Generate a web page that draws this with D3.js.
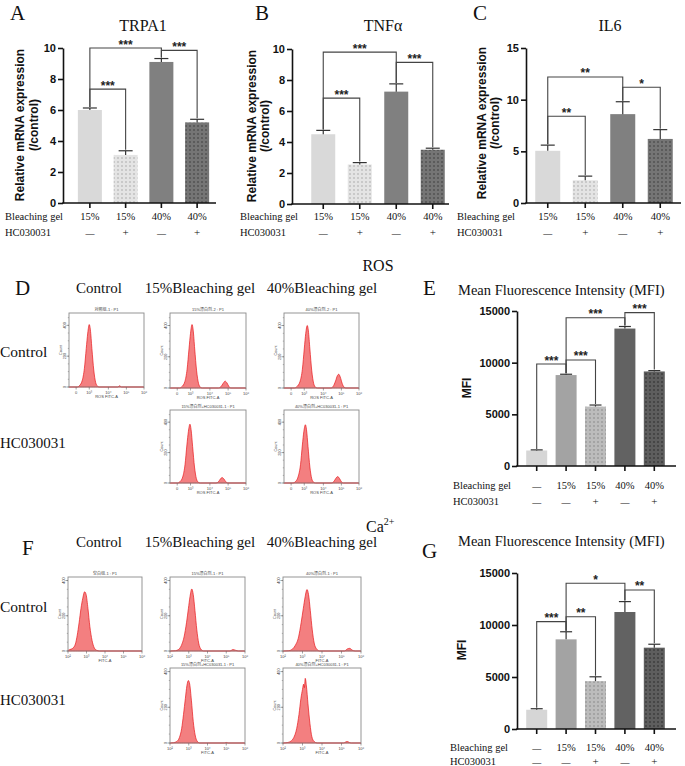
<!DOCTYPE html>
<html><head><meta charset="utf-8">
<script src="https://cdn.jsdelivr.net/npm/d3@7"></script>
<style>body{margin:0;background:#fff}svg{display:block}</style>
</head><body>
<svg id="fig" width="685" height="766"></svg>
<script>
// ---------------- DATA ----------------
const geneGel = ["15%","15%","40%","40%"];
const geneHC = ["—","+","—","+"];
const trpa1 = [6.0, 3.1, 9.1, 5.2];
const trpa1Err = [0.13, 0.27, 0.22, 0.2];
const tnfa = [4.5, 2.55, 7.25, 3.5];
const tnfaErr = [0.25, 0.12, 0.5, 0.1];
const il6 = [5.05, 2.2, 8.6, 6.2];
const il6Err = [0.55, 0.4, 1.2, 0.9];
const geneTicks10 = [0, 2, 4, 6, 8, 10];
const geneTicks15 = [0, 5, 10, 15];
// brackets: [from bar, to bar, level, label]
const trpa1Sig = [[0,2,10.0,"***"],[2,3,9.85,"***"],[0,1,7.35,"***"]];
const tnfaSig = [[0,2,9.8,"***"],[2,3,9.14,"***"],[0,1,6.83,"***"]];
const il6Sig = [[0,2,12.2,"**"],[2,3,11.2,"*"],[0,1,8.4,"**"]];

const mfiGel = ["—","15%","15%","40%","40%"];
const mfiHC = ["—","—","+","—","+"];
const mfiTicks = [0, 5000, 10000, 15000];
const rosMFI = [1500, 8800, 5750, 13300, 9150];
const rosMFIErr = [60, 80, 150, 200, 80];
const rosSig = [[0,1,9870,"***"],[1,2,10260,"***"],[1,3,14350,"***"],[3,4,14840,"***"]];
const caMFI = [1850, 8620, 4600, 11250, 7820];
const caMFIErr = [100, 730, 420, 1000, 330];
const caSig = [[0,1,10320,"***"],[1,2,10800,"**"],[1,3,14010,"*"],[3,4,13370,"**"]];

// flow histograms: [x position on axis, count]
const rosCtrl = [[0,0],[0.45,0],[0.55,8],[0.7,40],[0.82,120],[0.92,250],[1.0,350],[1.08,405],[1.14,370],[1.22,250],[1.32,110],[1.42,30],[1.52,5],[1.62,0],[2.6,0],[2.7,8],[2.8,0],[4,0]];
const ros15 = [[0,0],[0.5,0],[0.62,8],[0.78,40],[0.9,120],[1.0,250],[1.08,350],[1.16,406],[1.22,370],[1.3,250],[1.4,110],[1.5,30],[1.6,5],[1.7,0],[2.55,0],[2.68,8],[2.8,30],[2.9,44],[3.0,32],[3.1,10],[3.2,0],[4,0]];
const ros40 = [[0,0],[0.55,0],[0.68,8],[0.85,40],[0.98,120],[1.08,250],[1.16,350],[1.24,400],[1.3,365],[1.38,250],[1.48,110],[1.58,30],[1.68,5],[1.78,0],[2.5,0],[2.62,10],[2.75,45],[2.85,80],[2.92,88],[3.0,70],[3.1,30],[3.2,6],[3.3,0],[4,0]];
const ros15HC = [[0,0],[0.4,0],[0.52,8],[0.67,40],[0.79,120],[0.89,250],[0.97,340],[1.05,387],[1.11,350],[1.19,240],[1.29,105],[1.39,28],[1.49,5],[1.59,0],[2.42,0],[2.55,8],[2.65,26],[2.74,36],[2.84,26],[2.94,8],[3.04,0],[4,0]];
const ros40HC = [[0,0],[0.48,0],[0.6,8],[0.75,40],[0.88,120],[0.98,250],[1.06,340],[1.14,383],[1.2,350],[1.28,240],[1.38,105],[1.48,28],[1.58,5],[1.68,0],[2.52,0],[2.65,8],[2.76,30],[2.86,42],[2.96,30],[3.06,8],[3.16,0],[4,0]];
const caCtrl = [[2.0,3],[2.1,8],[2.25,15],[2.4,40],[2.5,90],[2.6,160],[2.7,240],[2.8,300],[2.9,336],[2.98,320],[3.08,240],[3.18,140],[3.3,60],[3.42,18],[3.55,4],[3.7,0],[6,0]];
const ca15 = [[2.0,0],[2.3,2],[2.45,8],[2.6,30],[2.75,80],[2.88,160],[2.98,240],[3.07,310],[3.16,352],[3.24,320],[3.33,230],[3.43,120],[3.53,45],[3.65,10],[3.8,0],[5.2,0],[5.35,8],[5.5,4],[5.65,0],[6,0]];
const ca40 = [[2.0,0],[2.3,2],[2.45,8],[2.62,30],[2.8,80],[2.93,160],[3.04,240],[3.14,310],[3.23,349],[3.31,320],[3.4,230],[3.5,120],[3.6,45],[3.72,12],[3.88,0],[5.15,0],[5.3,12],[5.42,15],[5.55,5],[5.7,0],[6,0]];
const ca15HC = [[2.0,0],[2.2,2],[2.35,8],[2.5,30],[2.62,80],[2.72,160],[2.82,250],[2.9,320],[2.98,350],[3.05,330],[3.14,240],[3.24,120],[3.34,45],[3.45,10],[3.6,0],[4.9,0],[5.0,3],[5.1,0],[6,0]];
const ca40HC = [[2.0,0],[2.25,3],[2.4,10],[2.55,30],[2.7,80],[2.82,160],[2.92,250],[3.0,300],[3.06,330],[3.1,310],[3.14,362],[3.2,320],[3.28,220],[3.38,110],[3.48,35],[3.6,8],[3.75,0],[5.1,0],[5.22,6],[5.3,8],[5.4,3],[5.5,0],[6,0]];
const rosTicks = [[0.38,"0"],[1.08,"10³"],[2.1,"10⁴"],[3.06,"10⁵"],[4,"10⁶"]];
const caTicks = [[2,"10²"],[3,"10³"],[4,"10⁴"],[5,"10⁵"],[6,"10⁶"]];
const countTicks = [0, 200, 400];
const colHeads = ["Control","15%Bleaching gel","40%Bleaching gel"];
const rowHeads = ["Control","HC030031"];

// ---------------- DRAWING ----------------
const svg = d3.select("#fig");
const SERIF = "'Liberation Serif','Times New Roman',serif";
const SANS = "'Liberation Sans',Arial,sans-serif";
const CJK = "'Liberation Sans','Noto Sans CJK SC',sans-serif";
const defs = svg.append("defs");
function dotPattern(id, bg, dot) {
  const p = defs.append("pattern").attr("id", id).attr("patternUnits","userSpaceOnUse")
    .attr("width",4).attr("height",4);
  p.append("rect").attr("width",4).attr("height",4).attr("fill",bg);
  p.append("circle").attr("cx",2).attr("cy",2).attr("r",0.8).attr("fill",dot);
}
dotPattern("dotLight","#e4e4e4","#a8a8a8");
dotPattern("dotDark","#757575","#3a3a3a");
dotPattern("dotMid","#bcbcbc","#858585");
dotPattern("dotDarker","#5e5e5e","#262626");

const geneFills = ["#d9d9d9","url(#dotLight)","#808080","url(#dotDark)"];
const mfiFills = ["#d6d6d6","#a3a3a3","url(#dotMid)","#626262","url(#dotDarker)"];

function text(x, y, s, size, family, opts = {}) {
  const t = svg.append("text").attr("x", x).attr("y", y).text(s)
    .attr("font-size", size).attr("font-family", family).attr("fill", "#111");
  if (opts.anchor) t.attr("text-anchor", opts.anchor);
  if (opts.weight) t.attr("font-weight", opts.weight);
  if (opts.rotate) t.attr("transform", `rotate(-90,${x},${y})`);
  return t;
}

function barPanel(o) {
  const g = svg.append("g");
  const y = d3.scaleLinear().domain(o.yDomain).range([o.yBottom, o.yTop]);
  const x = d3.scalePoint().domain(d3.range(o.values.length)).range(o.xRange).padding(0.5);
  g.selectAll("rect.bar").data(o.values).join("rect").attr("class","bar")
    .attr("x",(d,i)=>x(i)-o.bw/2).attr("width",o.bw)
    .attr("y",d=>y(d)).attr("height",d=>y(0)-y(d))
    .attr("fill",(d,i)=>o.fills[i]);
  const eb = g.selectAll("g.err").data(o.values).join("g").attr("class","err");
  eb.append("line").attr("x1",(d,i)=>x(i)).attr("x2",(d,i)=>x(i))
    .attr("y1",d=>y(d)).attr("y2",(d,i)=>y(d+o.errs[i]))
    .attr("stroke","#333").attr("stroke-width",1.2);
  eb.append("line").attr("x1",(d,i)=>x(i)-o.cap).attr("x2",(d,i)=>x(i)+o.cap)
    .attr("y1",(d,i)=>y(d+o.errs[i])).attr("y2",(d,i)=>y(d+o.errs[i]))
    .attr("stroke","#333").attr("stroke-width",1.2);
  const ya = d3.axisLeft(y).tickValues(o.ticks).tickSize(5).tickSizeOuter(0).tickPadding(2)
    .tickFormat(d3.format("d"));
  const yg = g.append("g").attr("transform",`translate(${o.ax},0)`).call(ya);
  yg.select(".domain").attr("stroke","#111").attr("stroke-width",1.6);
  yg.selectAll(".tick line").attr("stroke","#111").attr("stroke-width",1.6);
  yg.selectAll(".tick text").attr("font-family",SANS).attr("font-size",11)
    .attr("font-weight","bold").attr("fill","#111");
  g.append("line").attr("x1",o.ax - 0.8).attr("x2",o.xEnd).attr("y1",y(0)).attr("y2",y(0))
    .attr("stroke","#111").attr("stroke-width",1.6);
  g.selectAll("line.xt").data(o.values).join("line").attr("class","xt")
    .attr("x1",(d,i)=>x(i)).attr("x2",(d,i)=>x(i)).attr("y1",y(0)).attr("y2",y(0)+5)
    .attr("stroke","#111").attr("stroke-width",1.6);
  o.sig.forEach(([a,b,lev,lab])=>{
    const yl = y(lev);
    const ya1 = y(o.values[a]+o.errs[a]) - 1;
    const yb1 = y(o.values[b]+o.errs[b]) - 1;
    g.append("path").attr("d",`M${x(a)},${ya1}V${yl}H${x(b)}V${yb1}`)
      .attr("fill","none").attr("stroke","#444").attr("stroke-width",1.1);
    g.append("text").attr("x",(x(a)+x(b))/2).attr("y",yl+0.5).attr("text-anchor","middle")
      .attr("font-family",SANS).attr("font-size",12).attr("font-weight","bold").attr("fill","#222")
      .text(lab);
  });
  text(o.labelX, o.row1, "Bleaching gel", 10.5, SERIF);
  text(o.labelX, o.row2, "HC030031", 10.5, SERIF);
  o.gel.forEach((s,i)=> text(x(i), o.row1, s, s==="—"?9:10.5, SERIF, {anchor:"middle"}));
  o.hc.forEach((s,i)=> text(x(i), o.row2, s, s==="—"?9:11, SERIF, {anchor:"middle"}));
  o.ytitle.forEach(([s,xx])=> text(xx, o.ymid, s, 12, SANS, {anchor:"middle", weight:"bold", rotate:true}));
}

barPanel({values:trpa1, errs:trpa1Err, fills:geneFills, yDomain:[0,10], yBottom:203, yTop:48,
  xRange:[72,215], xEnd:216, ax:63, bw:24, cap:7, ticks:geneTicks10, sig:trpa1Sig,
  gel:geneGel, hc:geneHC, labelX:5, row1:220, row2:236, ymid:125,
  ytitle:[["Relative mRNA expression",24],["(/control)",38]]});
barPanel({values:tnfa, errs:tnfaErr, fills:geneFills, yDomain:[0,10], yBottom:204, yTop:49,
  xRange:[305,451], xEnd:449, ax:292, bw:24, cap:7, ticks:geneTicks10, sig:tnfaSig,
  gel:geneGel, hc:geneHC, labelX:240, row1:220, row2:236, ymid:126,
  ytitle:[["Relative mRNA expression",256],["(/control)",269]]});
barPanel({values:il6, errs:il6Err, fills:geneFills, yDomain:[0,15], yBottom:203, yTop:48,
  xRange:[529,679], xEnd:681, ax:526, bw:25, cap:7, ticks:geneTicks15, sig:il6Sig,
  gel:geneGel, hc:geneHC, labelX:457, row1:220, row2:236, ymid:123,
  ytitle:[["Relative mRNA expression",486],["(/control)",499]]});
barPanel({values:rosMFI, errs:rosMFIErr, fills:mfiFills, yDomain:[0,15000], yBottom:466, yTop:311,
  xRange:[522,669], xEnd:676, ax:517, bw:21, cap:6, ticks:mfiTicks, sig:rosSig,
  gel:mfiGel, hc:mfiHC, labelX:453, row1:489, row2:505, ymid:388,
  ytitle:[["MFI",471]]});
barPanel({values:caMFI, errs:caMFIErr, fills:mfiFills, yDomain:[0,15000], yBottom:729, yTop:573,
  xRange:[522,669], xEnd:676, ax:517, bw:21, cap:6, ticks:mfiTicks, sig:caSig,
  gel:mfiGel, hc:mfiHC, labelX:450, row1:751, row2:765, ymid:650,
  ytitle:[["MFI",466]]});

text(10,20,"A",21,SERIF); text(255,20,"B",21,SERIF); text(473,20,"C",21,SERIF);
text(15,295,"D",21,SERIF); text(423,295,"E",21,SERIF);
text(22,555,"F",21,SERIF); text(422,558,"G",21,SERIF);
text(143,31,"TRPA1",16,SERIF,{anchor:"middle"});
text(383,31,"TNFα",16,SERIF,{anchor:"middle"});
text(610,31,"IL6",16,SERIF,{anchor:"middle"});
text(458,295,"Mean Fluorescence Intensity (MFI)",14.5,SERIF);
text(458,546,"Mean Fluorescence Intensity (MFI)",14.5,SERIF);
text(378,271,"ROS",16,SERIF,{anchor:"middle"});
const ca = text(366,532,"Ca",16,SERIF);
ca.append("tspan").attr("font-size",10).attr("dy",-7).text("2+");

[[99,colHeads[0]],[200,colHeads[1]],[322,colHeads[2]]].forEach(([x,s])=>{
  text(x,293,s,15,SERIF,{anchor:"middle"});
  text(x,547,s,15,SERIF,{anchor:"middle"});
});
text(0,357,rowHeads[0],15.5,SERIF); text(0,448,rowHeads[1],15,SERIF);
text(0,612,rowHeads[0],15.5,SERIF); text(0,705,rowHeads[1],15,SERIF);

function hist(o) {
  const g = svg.append("g").attr("transform",`translate(${o.x},${o.y})`);
  const x = d3.scaleLinear().domain(o.xDomain).range([0,o.w]);
  const y = d3.scaleLinear().domain([0,o.yMax]).range([o.h,0]);
  const area = d3.area().x(d=>x(d[0])).y0(o.h).y1(d=>y(d[1])).curve(d3.curveMonotoneX);
  g.append("path").datum(o.data).attr("d",area).attr("fill","#f37f80")
    .attr("stroke","#e8191d").attr("stroke-width",0.7);
  g.append("rect").attr("width",o.w).attr("height",o.h).attr("fill","none")
    .attr("stroke","#8a8a8a").attr("stroke-width",0.9);
  d3.range(0, o.yMax, 50).forEach(v=>{
    g.append("line").attr("x1",-1.2).attr("x2",0).attr("y1",y(v)).attr("y2",y(v))
      .attr("stroke","#777").attr("stroke-width",0.5);
  });
  countTicks.forEach(v=>{
    g.append("line").attr("x1",-2.5).attr("x2",0).attr("y1",y(v)).attr("y2",y(v))
      .attr("stroke","#666").attr("stroke-width",0.6);
    g.append("text").attr("transform",`translate(-3.5,${y(v)}) rotate(-90)`)
      .attr("text-anchor","middle").attr("font-size",3.8).attr("font-family",SANS).attr("fill","#444").text(v);
  });
  g.append("text").attr("transform",`translate(-7.5,${o.h/2}) rotate(-90)`).attr("text-anchor","middle")
    .attr("font-size",3.8).attr("font-family",SANS).attr("fill","#444").text("Count");
  o.ticks.forEach(([v,l])=>{
    g.append("line").attr("x1",x(v)).attr("x2",x(v)).attr("y1",o.h).attr("y2",o.h+2.5)
      .attr("stroke","#666").attr("stroke-width",0.6);
    g.append("text").attr("x",x(v)).attr("y",o.h+6.5).attr("text-anchor","middle")
      .attr("font-size",4).attr("font-family",SANS).attr("fill","#444").text(l);
  });
  g.append("text").attr("x",o.w/2).attr("y",o.h+11).attr("text-anchor","middle")
    .attr("font-size",4).attr("font-family",SANS).attr("fill","#444").text(o.xlab);
  g.append("text").attr("x",o.w/2).attr("y",-2.5).attr("text-anchor","middle")
    .attr("font-size",4).attr("font-family",CJK).attr("fill","#444").text(o.title);
}
const rosOpt = {xDomain:[0,4], yMax:480, ticks:rosTicks, xlab:"ROS FITC-A"};
const caOpt = {xDomain:[2,6], yMax:420, ticks:caTicks, xlab:"FITC-A"};
hist({...rosOpt, x:69, y:313, w:75, h:74, data:rosCtrl, title:"对照组-1 : P1"});
hist({...rosOpt, x:170, y:313, w:76, h:75, data:ros15, title:"15%漂白剂-2 : P1"});
hist({...rosOpt, x:284, y:313, w:75, h:75, data:ros40, title:"40%漂白剂-2 : P1"});
hist({...rosOpt, x:170, y:410, w:76, h:73, data:ros15HC, title:"15%漂白剂+HC030031-1 : P1"});
hist({...rosOpt, x:284, y:410, w:75, h:73, data:ros40HC, title:"40%漂白剂+HC030031-1 : P1"});
hist({...caOpt, x:68, y:577, w:74, h:74, data:caCtrl, title:"空白组-1 : P1"});
hist({...caOpt, x:170, y:577, w:75, h:74, data:ca15, title:"15%漂白剂-1 : P1"});
hist({...caOpt, x:283, y:577, w:78, h:74, data:ca40, title:"40%漂白剂-1 : P1"});
hist({...caOpt, x:170, y:668, w:75, h:75, data:ca15HC, title:"15%漂白剂+HC030031-1 : P1"});
hist({...caOpt, x:283, y:668, w:78, h:75, data:ca40HC, title:"40%漂白剂+HC030031-1 : P1"});
</script>
</body></html>
